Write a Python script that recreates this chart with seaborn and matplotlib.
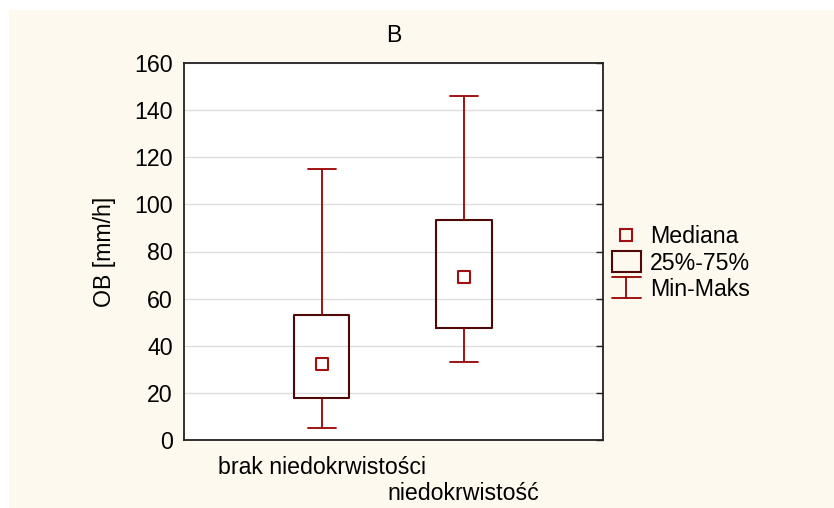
import matplotlib
matplotlib.use("Agg")
import matplotlib.pyplot as plt
import matplotlib.patches as mpatches
from matplotlib.lines import Line2D
from matplotlib.legend_handler import HandlerBase
import numpy as np
import pandas as pd
import seaborn as sns

# dane: min, Q1, mediana, Q3, max
groups = ['brak niedokrwistości', 'niedokrwistość']
mins = [5, 33]
q1s = [18, 47.5]
medians = [32.3, 69.2]
q3s = [53, 93.5]
maxs = [115, 146]
yticks = [0, 20, 40, 60, 80, 100, 120, 140, 160]

rows = []
for g, a, b, c, d, e in zip(groups, mins, q1s, medians, q3s, maxs):
    for v in (a, b, c, d, e):
        rows.append({'grupa': g, 'OB': v})
data = pd.DataFrame(rows)
med = pd.DataFrame({'grupa': groups, 'OB': medians})

sns.set_style('white')
plt.rcParams['font.family'] = ['Liberation Sans', 'DejaVu Sans']
plt.rcParams['text.color'] = 'black'
plt.rcParams['axes.labelcolor'] = 'black'

FS = 16.7
cream = '#FDF9EE'
wred = '#990000'
boxc = '#4E0808'
medc = '#A01010'

fig = plt.figure(figsize=(8.34, 5.08), dpi=100, facecolor='white')
fig.patches.append(mpatches.Rectangle((9 / 834, 0), 1, 1 - 10 / 508, transform=fig.transFigure,
                                      facecolor=cream, edgecolor='none', zorder=-10))
ax = fig.add_axes([184 / 834, 1 - 440 / 508, (603 - 184) / 834, (440 - 63) / 508])
ax.set_facecolor('white')

sns.boxplot(data=data, x='grupa', y='OB', order=groups, whis=(0, 100), width=0.39,
            fill=False, color=wred, linewidth=1.3, ax=ax,
            boxprops=dict(color=boxc, linewidth=1.5),
            whiskerprops=dict(color=wred, linewidth=1.3),
            capprops=dict(color=wred, linewidth=1.3),
            medianprops=dict(visible=False),
            showfliers=False, capwidths=0.2)
sns.scatterplot(data=med, x='grupa', y='OB', marker='s', s=70, facecolor='none',
                edgecolor=medc, linewidth=1.5, ax=ax, zorder=5)

ax.set_xlim(-0.97, 1.98)
ax.set_ylim(0, 160)
ax.set_yticks(yticks)
ax.yaxis.grid(True, color='#DDDDDD', linewidth=1)
ax.set_axisbelow(True)
for s in ax.spines.values():
    s.set_visible(True)
    s.set_color('#222222')
    s.set_linewidth(1.3)
ax.tick_params(axis='both', direction='in', length=5, width=1, colors='#222222',
               labelsize=FS, labelcolor='black', right=True)
ax.tick_params(axis='y', pad=8)
ax.set_xticks([0, 1])
ax.set_xticklabels([])
# etykiety kategorii w dwóch poziomach
for i, g in enumerate(groups):
    ax.annotate(g, xy=(i, 0), xycoords=('data', 'axes fraction'),
                xytext=(0, -27 - 26 * i), textcoords='offset pixels',
                ha='center', va='center', fontsize=FS, annotation_clip=False)
ax.set_xlabel('')
ax.set_ylabel('OB [mm/h]', fontsize=FS)
ax.yaxis.set_label_coords(-(184 - 116) / 419, 0.5)
ax.set_title('B', fontsize=FS, pad=15)


class MinMaxHandler(HandlerBase):
    def create_artists(self, legend, orig, xd, yd, w, h, fs, trans):
        cx = w / 2 - xd
        top = h * 1.15 - yd
        bot = -h * 0.15 - yd
        lines = [Line2D([cx, cx], [bot, top]),
                 Line2D([cx - w / 2, cx + w / 2], [top, top]),
                 Line2D([cx - w / 2, cx + w / 2], [bot, bot])]
        for l in lines:
            l.set_color(wred)
            l.set_linewidth(1.3)
            l.set_transform(trans)
        return lines


class BoxHandler(HandlerBase):
    def create_artists(self, legend, orig, xd, yd, w, h, fs, trans):
        r = mpatches.Rectangle((-xd, -yd - h * 0.125), w, h * 1.25, facecolor='none',
                               edgecolor=boxc, linewidth=1.5, transform=trans)
        return [r]


h_med = Line2D([], [], marker='s', markersize=8.5, markerfacecolor='none',
               markeredgecolor=medc, markeredgewidth=1.5, linestyle='none')
h_box = mpatches.Rectangle((0, 0), 1, 1)
h_mm = Line2D([], [])
fig.legend([h_med, h_box, h_mm], ['Mediana', '25%-75%', 'Min-Maks'],
           handler_map={h_mm: MinMaxHandler(), h_box: BoxHandler()},
           loc='center left', bbox_to_anchor=(612 / 834, 1 - 263 / 508),
           frameon=False, fontsize=FS, handlelength=1.25, handletextpad=0.4,
           labelspacing=0.15, borderaxespad=0, borderpad=0)

fig.savefig('out.png', dpi=100, facecolor=fig.get_facecolor())
